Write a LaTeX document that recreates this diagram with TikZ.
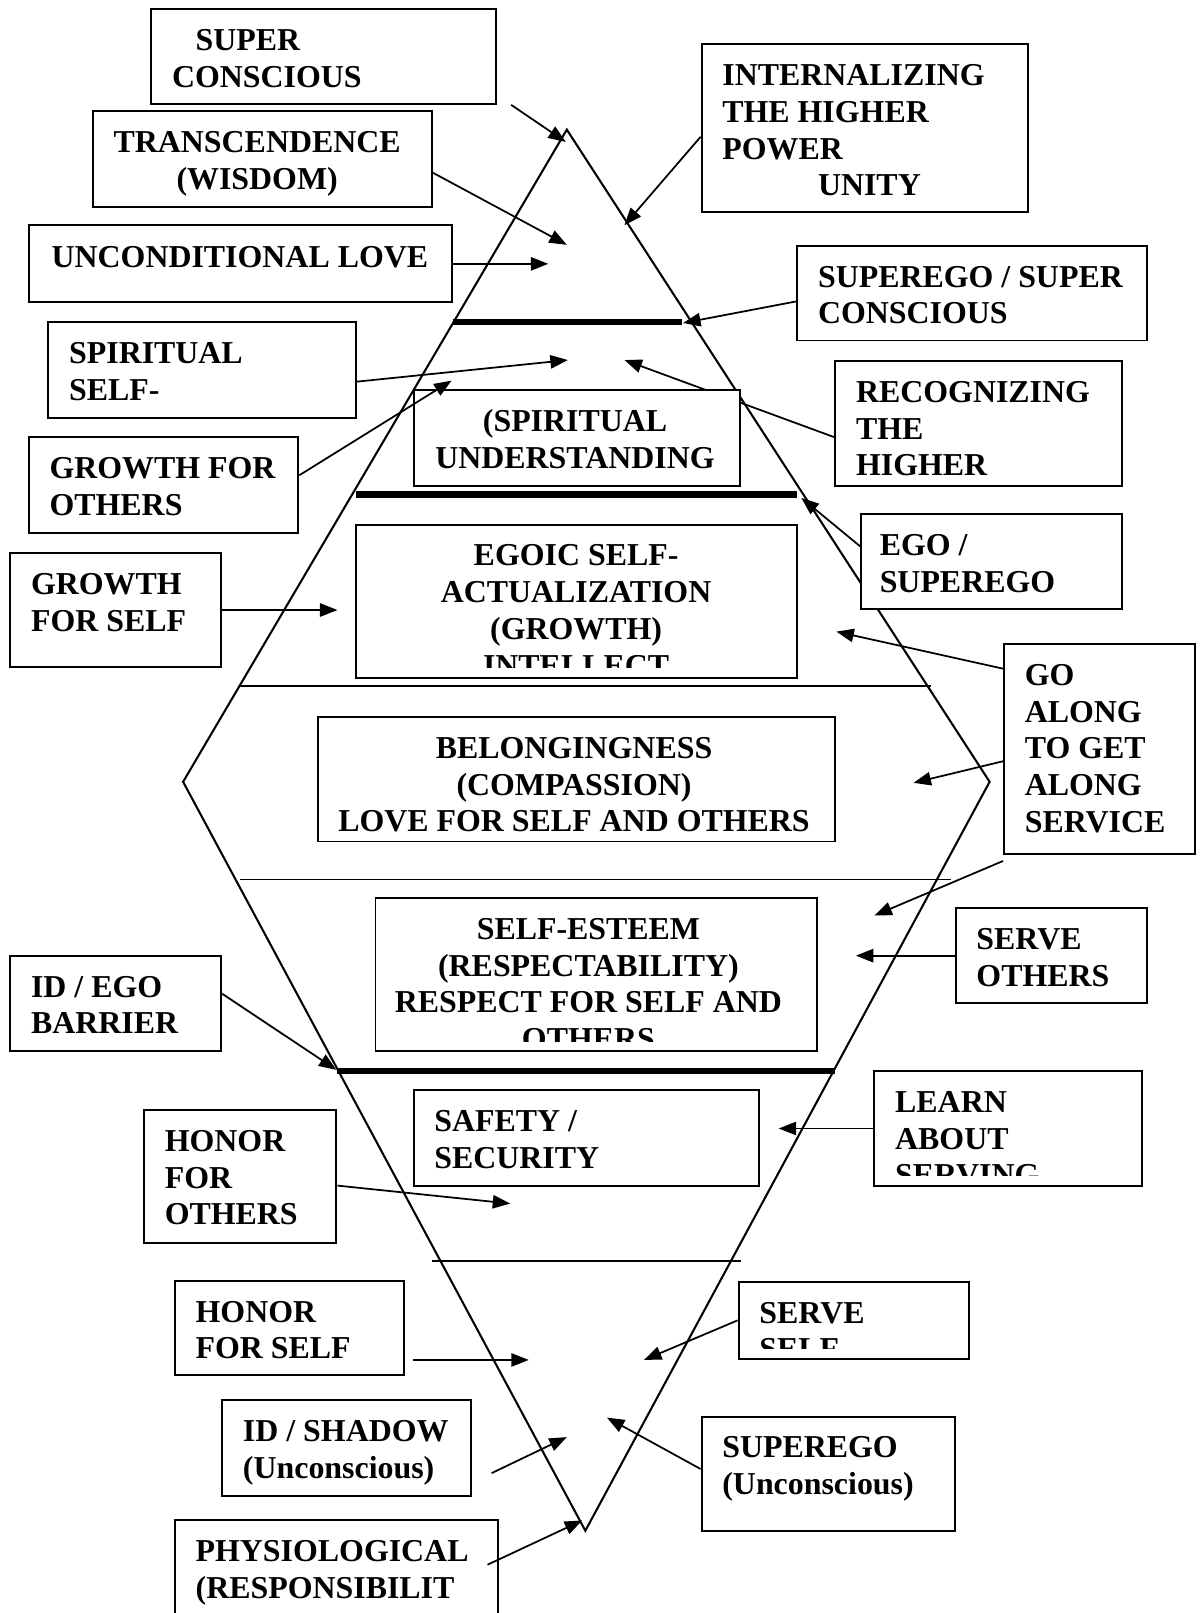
\documentclass[tikz,border=0pt]{standalone}
\usepackage{fontspec}
\setmainfont{Liberation Serif}
\usetikzlibrary{arrows.meta,fit}
\newcommand\dgfont{\fontsize{31pt}{35.75pt}\selectfont\bfseries}
\newcommand\firstl{\rule{0pt}{25pt}}
\begin{document}
\begin{tikzpicture}[x=1pt,y=1pt,
  bx/.style={draw,line width=1.9pt,fill=white,inner sep=0pt},
  lt/.style={font=\dgfont,align=left,inner sep=0pt,anchor=north west},
  ct/.style={font=\dgfont,align=center,inner sep=0pt,anchor=north},
  arr/.style={line width=1.7pt,-{Triangle[length=17pt,width=13pt]}},
  thick bar/.style={line width=6.5pt},
  thin bar/.style={line width=1.7pt}]
\useasboundingbox (0,0) rectangle (1168,-1568);
\clip (0,0) rectangle (1168,-1568);

% pyramid outline and level lines
\draw[line width=2pt] (551,-126) -- (178,-760) -- (569,-1488) -- (962,-760) -- cycle;
\draw[thick bar] (440,-313) -- (663,-313);
\draw[thick bar] (346,-481) -- (775,-481);
\draw[thin bar] (233,-667) -- (905,-667);
\draw[thin bar] (233,-855) -- (924,-855);
\draw[thick bar] (328,-1041) -- (812,-1041);
\draw[thin bar] (420,-1226) -- (720,-1226);

% arrow tips
\coordinate (p1) at (550,-138);
\coordinate (p2) at (551,-238);
\coordinate (p3) at (533,-256.5);
\coordinate (p4) at (607,-219);
\coordinate (p5) at (664,-314);
\coordinate (p6) at (552,-350);
\coordinate (p7) at (439,-370);
\coordinate (p8) at (607,-350);
\coordinate (p9) at (779,-484);
\coordinate (p10) at (328,-593);
\coordinate (p11) at (813,-614);
\coordinate (p12) at (888,-761);
\coordinate (p13) at (850,-890);
\coordinate (p14) at (832,-929);
\coordinate (p15) at (327,-1040);
\coordinate (p16) at (757,-1097);
\coordinate (p17) at (496,-1170);
\coordinate (p18) at (514,-1322);
\coordinate (p19) at (626,-1322);
\coordinate (p20) at (551,-1397);
\coordinate (p21) at (590,-1378);
\coordinate (p22) at (566,-1478);

% side boxes
\node[bx,fit={(147,-9)(482,-101)}] (sc) {};
\node[lt] (scT) at (167,-24) {\firstl\hspace*{23pt}SUPER\\CONSCIOUS};
\node[bx,fit={(90,-108)(420,-201)}] (tr) {};
\node[ct] (trT) at (250,-123) {\firstl TRANSCENDENCE\\(WISDOM)};
\node[bx,fit={(28,-219)(439,-294)}] (ul) {};
\node[lt] (ulT) at (50,-235) {\firstl UNCONDITIONAL LOVE};
\node[bx,fit={(47,-313)(346,-406)}] (ss) {};
\node[lt] (ssT) at (67,-328) {\firstl SPIRITUAL\\SELF-};
\node[bx,fit={(28,-425)(290,-518)}] (gfo) {};
\node[lt] (gfoT) at (48,-440) {\firstl GROWTH FOR\\OTHERS};
\node[bx,fit={(10,-538)(215,-648)}] (gfs) {};
\node[lt] (gfsT) at (30,-553) {\firstl GROWTH\\FOR SELF};
\node[bx,fit={(10,-929)(215,-1022)}] (ide) {};
\node[lt] (ideT) at (30,-944) {\firstl ID / EGO\\BARRIER};
\node[bx,fit={(140,-1079)(327,-1208)}] (hfo) {};
\node[lt] (hfoT) at (160,-1094) {\firstl HONOR\\FOR\\OTHERS};
\node[bx,fit={(170,-1245)(393,-1337)}] (hfs) {};
\node[lt] (hfsT) at (190,-1260) {\firstl HONOR\\FOR SELF};
\node[bx,fit={(216,-1361)(458,-1454)}] (ids) {};
\node[lt] (idsT) at (236,-1376) {\firstl ID / SHADOW\\(Unconscious)};
\node[bx,fit={(170,-1478)(484,-1600)}] (phy) {};
\node[lt] (phyT) at (190,-1493) {\firstl PHYSIOLOGICAL\\(RESPONSIBILIT};

\node[bx,fit={(682,-43)(999,-206)}] (int) {};
\node[lt] (intT) at (702,-58) {\firstl INTERNALIZING\\THE HIGHER\\POWER\\\hspace*{93pt}UNITY};
\node[bx,fit={(775,-239)(1115,-331)}] (sesc) {};
\node[lt] (sescT) at (795,-254) {\firstl SUPEREGO / SUPER\\CONSCIOUS};
\node[bx,fit={(812,-351)(1091,-472)}] (rec) {};
\node[lt] (recT) at (832,-366) {\firstl RECOGNIZING\\THE\\HIGHER};
\node[bx,fit={(837,-500)(1091,-592)}] (egs) {};
\node[lt] (egsT) at (855,-515) {\firstl EGO /\\SUPEREGO};
\node[bx,fit={(976,-626)(1162,-830)}] (go) {};
\node[lt] (goT) at (996,-641) {\firstl GO\\ALONG\\TO GET\\ALONG\\SERVICE};
\node[bx,fit={(929,-883)(1115,-975)}] (so) {};
\node[lt] (soT) at (949,-898) {\firstl SERVE\\OTHERS};
\node[bx,fit={(850,-1041)(1110,-1153)}] (las) {};
\begin{scope}
\clip (las.north west) rectangle ([yshift=11pt]las.south east);
\node[lt] (lasT) at (870,-1056) {\firstl LEARN\\ABOUT\\SERVING};
\end{scope}
\node[bx,fit={(718,-1246)(942,-1321)}] (sse) {};
\begin{scope}
\clip (sse.north west) rectangle ([yshift=11pt]sse.south east);
\node[lt] (sseT) at (738,-1261) {\firstl SERVE\\SELF};
\end{scope}
\node[bx,fit={(682,-1377)(928,-1488)}] (seu) {};
\node[lt] (seuT) at (702,-1392) {\firstl SUPEREGO\\(Unconscious)};

% arrow hidden behind the spiritual understanding box
\draw[arr] ([yshift=-13.5pt]rec.west) -- (p8);

% centre boxes
\node[bx,fit={(402,-379)(719,-472)}] (spu) {};
\node[ct] (spuT) at (559,-394) {\firstl (SPIRITUAL\\UNDERSTANDING};
\node[bx,fit={(346,-510)(775,-659)}] (ego) {};
\begin{scope}
\clip (ego.north west) rectangle ([yshift=11pt]ego.south east);
\node[ct] (egoT) at (560,-525) {\firstl EGOIC SELF-\\ACTUALIZATION\\(GROWTH)\\INTELLECT};
\end{scope}
\node[bx,fit={(309,-697)(812,-818)}] (bel) {};
\node[ct] (belT) at (558,-712) {\firstl BELONGINGNESS\\(COMPASSION)\\LOVE FOR SELF AND OTHERS};
\node[bx,fit={(365,-873)(794,-1022)}] (se) {};
\begin{scope}
\clip (se.north west) rectangle ([yshift=11pt]se.south east);
\node[ct] (seT) at (572,-888) {\firstl SELF-ESTEEM\\(RESPECTABILITY)\\RESPECT FOR SELF AND\\OTHERS};
\end{scope}
\node[bx,fit={(402,-1060)(738,-1153)}] (saf) {};
\node[lt] (safT) at (422,-1075) {\firstl SAFETY /\\SECURITY};

% arrows
\draw[arr] ([xshift=14pt]sc.south east) -- (p1);
\draw[arr] ([yshift=-13.5pt]tr.east) -- (p2);
\draw[arr] (ul.east) -- (p3);
\draw[arr] ([yshift=-8.5pt]int.west) -- (p4);
\draw[arr] ([yshift=-8pt]sesc.west) -- (p5);
\draw[arr] ([yshift=-11.5pt]ss.east) -- (p6);
\draw[arr] ([yshift=9.5pt]gfo.east) -- (p7);
\draw[arr] ([yshift=15pt]egs.west) -- (p9);
\draw[arr] (gfs.east) -- (p10);
\draw[arr] ([yshift=78pt]go.west) -- (p11);
\draw[arr] ([yshift=-12pt]go.west) -- (p12);
\draw[arr] ([yshift=-6pt]go.south west) -- (p13);
\draw[arr] (so.west) -- (p14);
\draw[arr] ([yshift=9.5pt]ide.east) -- (p15);
\draw[arr] (las.west) -- (p16);
\draw[arr] ([yshift=-9pt]hfo.east) -- (p17);
\draw[arr] ([xshift=8pt,yshift=-31pt]hfs.east) -- (p18);
\draw[arr] (sse.west) -- (p19);
\draw[arr] ([xshift=19pt,yshift=-24.5pt]ids.east) -- (p20);
\draw[arr] ([yshift=4.5pt]seu.west) -- (p21);
\draw[arr] ([xshift=-11pt,yshift=-44pt]phy.north east) -- (p22);
\end{tikzpicture}
\end{document}
